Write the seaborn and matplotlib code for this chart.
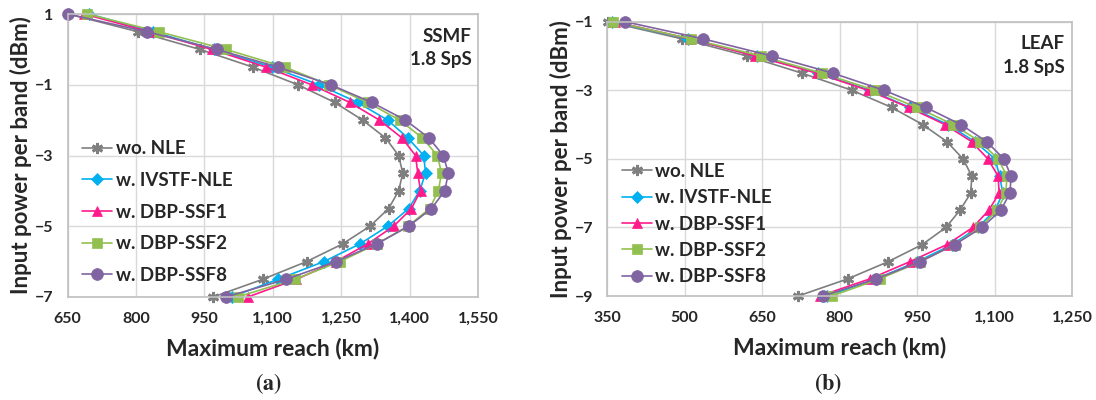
import seaborn as sns
import matplotlib.pyplot as plt
import matplotlib.ticker as mticker
import pandas as pd

# ----------------------------------
# data
# ----------------------------------
series = ['wo. NLE', 'w. IVSTF-NLE', 'w. DBP-SSF1', 'w. DBP-SSF2', 'w. DBP-SSF8']

# (a) SSMF, 1.8 SpS
power_a = [1, 0.5, 0, -0.5, -1, -1.5, -2, -2.5, -3, -3.5, -4, -4.5, -5, -5.5, -6, -6.5, -7]
ssmf_wo_nle = [652, 804, 940, 1056, 1155, 1236, 1297, 1347, 1376, 1385, 1376, 1354, 1313, 1253, 1174, 1078, 969]
ssmf_ivstf = [697, 837, 971, 1098, 1201, 1286, 1352, 1396, 1431, 1435, 1422, 1398, 1352, 1291, 1212, 1111, 1010]
ssmf_ssf1 = [686, 830, 966, 1085, 1185, 1269, 1334, 1383, 1413, 1418, 1424, 1404, 1365, 1308, 1238, 1152, 1045]
ssmf_ssf2 = [693, 850, 997, 1126, 1223, 1308, 1378, 1428, 1461, 1470, 1463, 1444, 1396, 1328, 1247, 1148, 1023]
ssmf_ssf8 = [650, 824, 977, 1111, 1227, 1317, 1391, 1442, 1474, 1485, 1477, 1448, 1398, 1328, 1238, 1129, 997]

# (b) LEAF, 1.8 SpS
power_b = [-1, -1.5, -2, -2.5, -3, -3.5, -4, -4.5, -5, -5.5, -6, -6.5, -7, -7.5, -8, -8.5, -9]
leaf_wo_nle = [352, 495, 621, 727, 824, 901, 961, 1008, 1039, 1056, 1054, 1033, 1006, 960, 894, 816, 720]
leaf_ivstf = [360, 507, 640, 758, 859, 936, 1010, 1062, 1101, 1110, 1116, 1101, 1068, 1018, 950, 871, 776]
leaf_ssf1 = [365, 510, 636, 756, 855, 934, 1004, 1056, 1087, 1107, 1109, 1089, 1058, 1008, 936, 859, 762]
leaf_ssf2 = [362, 513, 648, 766, 869, 950, 1020, 1072, 1107, 1124, 1122, 1105, 1072, 1023, 956, 878, 785]
leaf_ssf8 = [385, 536, 669, 787, 886, 967, 1035, 1085, 1118, 1132, 1130, 1112, 1076, 1023, 956, 871, 768]

colors = ['#7f7f7f', '#00b0f0', '#ff1a8c', '#92c050', '#8064a2']
markers = [(6, 2, 0), 'D', '^', 's', 'o']
msizes = [8, 6.5, 7.5, 7, 8.5]

sns.set_theme(style="white")
plt.rcParams['font.family'] = ['Lato', 'DejaVu Sans']
plt.rcParams['font.weight'] = 'bold'
plt.rcParams['mathtext.fontset'] = 'stix'

fig = plt.figure(figsize=(10.96, 4.0), dpi=100)
ax_a = fig.add_axes([67.5 / 1096, 1 - 297 / 400, (478 - 67.5) / 1096, (297 - 14) / 400])
ax_b = fig.add_axes([607 / 1096, 1 - 296 / 400, (1072 - 607) / 1096, (296 - 21.7) / 400])


def draw_panel(ax, power, reach_lists, xlim, ylim, yticks, fiber, leg_y, leg_space):
    for name, reach, c, m, ms in zip(series, reach_lists, colors, markers, msizes):
        df = pd.DataFrame({'reach': reach, 'power': power})
        sns.lineplot(data=df, x='reach', y='power', sort=False, estimator=None,
                     color=c, marker=m, markersize=ms, markeredgecolor=c,
                     markeredgewidth=2 if m == (6, 2, 0) else 0.5,
                     linewidth=1.2, label=name, ax=ax, clip_on=False)
    ax.set_xlim(*xlim)
    ax.set_ylim(*ylim)
    ax.set_xticks(range(xlim[0], xlim[1] + 1, 150))
    ax.set_yticks(yticks)
    ax.xaxis.set_major_formatter(mticker.FuncFormatter(lambda v, p: f'{int(v):,}'))
    ax.grid(True, color='#d9d9d9', linewidth=1)
    for s in ax.spines.values():
        s.set_color('#bfbfbf')
        s.set_linewidth(1.2)
    ax.tick_params(axis='x', length=0, labelsize=11.5, pad=11)
    ax.tick_params(axis='y', length=0, labelsize=11.5, pad=10)
    for lab in ax.get_xticklabels() + ax.get_yticklabels():
        lab.set_fontweight('bold')
    ax.set_xlabel('Maximum reach (km)', fontsize=16.5, fontweight='bold', labelpad=8)
    ax.set_ylabel('Input power per band (dBm)', fontsize=16, fontweight='bold', labelpad=2)
    ax.text(0.985, 0.95, fiber + '\n1.8 SpS', transform=ax.transAxes, ha='right', va='top',
            fontsize=13.5, fontweight='bold', linespacing=1.45)
    ax.legend(loc='center left', bbox_to_anchor=(-0.005, leg_y), frameon=False,
              handlelength=1.6, handletextpad=0.2, labelspacing=leg_space,
              prop={'weight': 'bold', 'size': 13.5})


draw_panel(ax_a, power_a, [ssmf_wo_nle, ssmf_ivstf, ssmf_ssf1, ssmf_ssf2, ssmf_ssf8],
           (650, 1550), (-7, 1), [1, -1, -3, -5, -7], 'SSMF', 0.30, 0.78)
draw_panel(ax_b, power_b, [leaf_wo_nle, leaf_ivstf, leaf_ssf1, leaf_ssf2, leaf_ssf8],
           (350, 1250), (-9, -1), [-1, -3, -5, -7, -9], 'LEAF', 0.262, 0.5)

fig.text(268 / 1096, 1 - 384 / 400, r'$(\mathbf{a})$', ha='center', va='center', fontsize=16)
fig.text(828 / 1096, 1 - 384 / 400, r'$(\mathbf{b})$', ha='center', va='center', fontsize=16)

plt.savefig('out.png', dpi=100)
